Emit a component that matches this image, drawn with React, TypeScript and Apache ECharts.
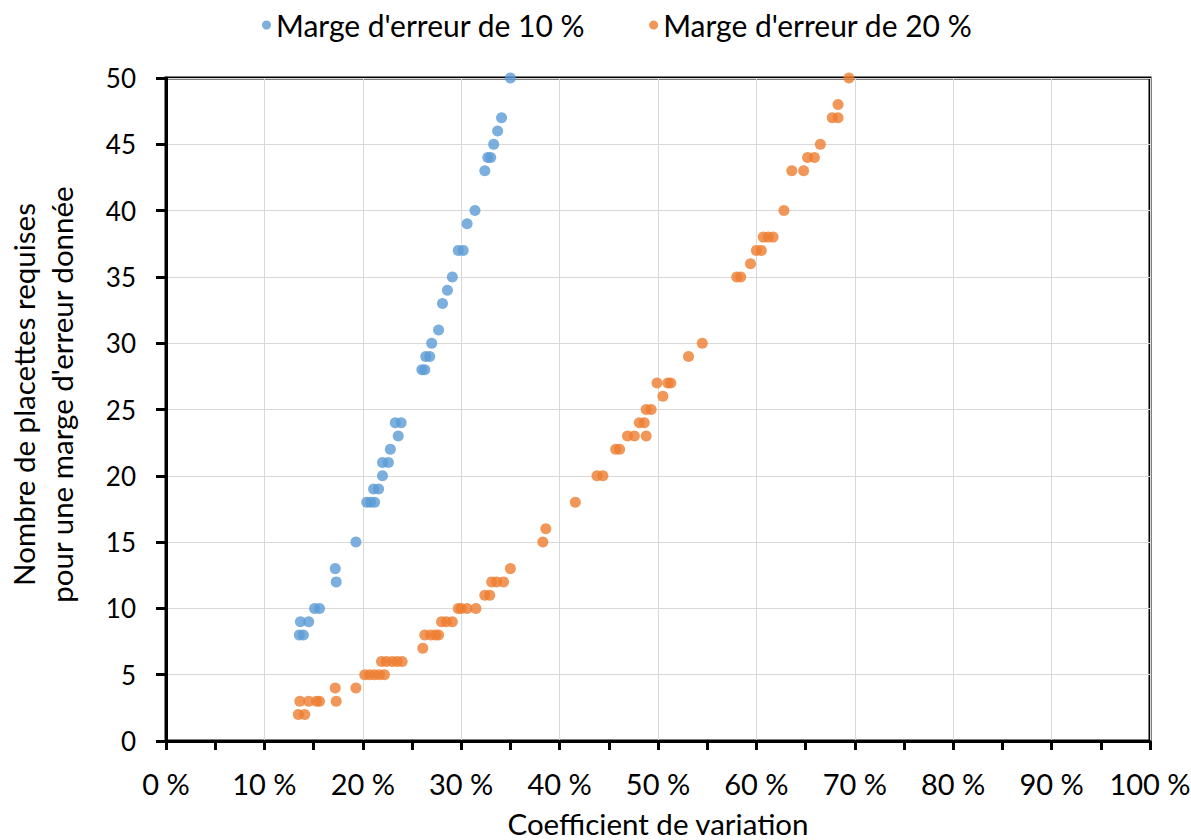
import React, { useEffect, useRef } from "react";
import * as echarts from "echarts";

// Marge d'erreur de 10 % : coefficient de variation (%) et nombre de placettes
const cv10: number[] = [
  13.55, 13.96, 13.66, 14.5, 15.1, 15.6, 17.3, 17.2, 19.3, 20.4, 20.8, 21.2, 21.1, 21.6, 22.0, 22.0, 22.6,
  22.8, 23.6, 23.3, 23.9, 26.0, 26.3, 26.4, 26.8, 27.0, 27.7, 28.1, 28.6, 29.1, 29.7, 30.2, 30.6, 31.4,
  32.4, 32.7, 33.0, 33.3, 33.7, 34.1, 35.0,
];
const n10: number[] = [
  8, 8, 9, 9, 10, 10, 12, 13, 15, 18, 18, 18, 19, 19, 20, 21, 21,
  22, 23, 24, 24, 28, 28, 29, 29, 30, 31, 33, 34, 35, 37, 37, 39, 40,
  43, 44, 44, 45, 46, 47, 50,
];

// Marge d'erreur de 20 %
const cv20: number[] = [
  13.45, 14.1, 13.6, 14.5, 15.3, 15.6, 17.3, 17.2, 19.3, 20.2, 20.7, 21.2, 21.7, 22.2,
  21.9, 22.4, 23.0, 23.5, 24.0, 26.1, 26.3, 26.9, 27.4, 27.7, 28.0, 28.5, 29.1,
  29.7, 30.0, 30.6, 31.5, 32.4, 32.9, 33.1, 33.6, 34.3, 35.0, 38.3, 38.6, 41.6,
  43.8, 44.4, 45.7, 46.1, 46.9, 47.6, 48.8, 48.1, 48.6, 48.8, 49.3, 50.5, 49.9, 51.0, 51.3,
  53.1, 54.5, 58.0, 58.4, 59.4, 60.0, 60.5, 60.7, 61.2, 61.7, 62.8, 63.6, 64.8,
  65.2, 65.9, 66.5, 67.7, 68.3, 68.3, 69.4,
];
const n20: number[] = [
  2, 2, 3, 3, 3, 3, 3, 4, 4, 5, 5, 5, 5, 5,
  6, 6, 6, 6, 6, 7, 8, 8, 8, 8, 9, 9, 9,
  10, 10, 10, 10, 11, 11, 12, 12, 12, 13, 15, 16, 18,
  20, 20, 22, 22, 23, 23, 23, 24, 24, 25, 25, 26, 27, 27, 27,
  29, 30, 35, 35, 36, 37, 37, 38, 38, 38, 40, 43, 43,
  44, 44, 45, 47, 47, 48, 50,
];

const seriesNames: string[] = ["Marge d'erreur de 10 %", "Marge d'erreur de 20 %"];
const xAxisTitle = "Coefficient de variation";
const yAxisTitle = "Nombre de placettes requises\npour une marge d'erreur donnée";

const FONT = "Lato";

export default function App() {
  const ref = useRef<HTMLDivElement>(null);
  useEffect(() => {
    document.body.style.margin = "0";
    const chart = echarts.init(ref.current!, undefined, { renderer: "svg" });
    const pairs = (xs: number[], ys: number[]) => xs.map((x, i) => [x, ys[i]]);
    chart.setOption({
      animation: false,
      textStyle: { fontFamily: FONT },
      legend: {
        top: 5,
        left: 257,
        icon: "circle",
        itemWidth: 9,
        itemHeight: 9,
        itemGap: 64,
        textStyle: { fontSize: 30, color: "#000", fontFamily: FONT },
        data: seriesNames,
      },
      grid: {
        left: 166,
        right: 41,
        top: 78,
        bottom: 99,
        show: true,
        borderColor: "#000",
        borderWidth: 3,
        outerBoundsMode: "none",
        containLabel: false,
      },
      xAxis: {
        type: "value",
        min: 0,
        max: 100,
        interval: 10,
        name: xAxisTitle,
        nameLocation: "middle",
        nameGap: 67,
        nameTextStyle: { fontSize: 29.5, lineHeight: 31, color: "#000", fontFamily: FONT },
        axisLine: { show: true, lineStyle: { color: "#000", width: 3 } },
        axisTick: { show: true, length: 9, lineStyle: { color: "#000", width: 3 } },
        minorTick: { show: true, splitNumber: 2, length: 9, lineStyle: { color: "#000", width: 3 } },
        axisLabel: {
          fontSize: 29,
          color: "#000",
          margin: 28,
          fontFamily: FONT,
          formatter: (v: number) => `${v} %`,
        },
        splitLine: { show: true, lineStyle: { color: "#d9d9d9", width: 1 } },
      },
      yAxis: {
        type: "value",
        min: 0,
        max: 50,
        interval: 5,
        name: yAxisTitle,
        nameLocation: "middle",
        nameGap: 86,
        nameTextStyle: {
          fontSize: 29.5,
          lineHeight: 38,
          color: "#000",
          fontFamily: FONT,
          align: "center",
          padding: [0, 0, 0, 30],
        },
        axisLine: { show: true, lineStyle: { color: "#000", width: 3 } },
        axisTick: { show: true, length: 10, lineStyle: { color: "#000", width: 3 } },
        axisLabel: { fontSize: 26, color: "#000", margin: 30, fontFamily: FONT },
        splitLine: { show: true, lineStyle: { color: "#d9d9d9", width: 1 } },
      },
      series: [
        {
          name: seriesNames[0],
          type: "scatter",
          symbol: "circle",
          symbolSize: 11,
          itemStyle: { color: "#5b9bd5" },
          data: pairs(cv10, n10),
        },
        {
          name: seriesNames[1],
          type: "scatter",
          symbol: "circle",
          symbolSize: 11,
          itemStyle: { color: "#ed7d31" },
          data: pairs(cv20, n20),
        },
      ],
    });
    return () => chart.dispose();
  }, []);
  return <div ref={ref} style={{ position: "absolute", left: 0, top: 0, width: 1191, height: 840 }} />;
}
